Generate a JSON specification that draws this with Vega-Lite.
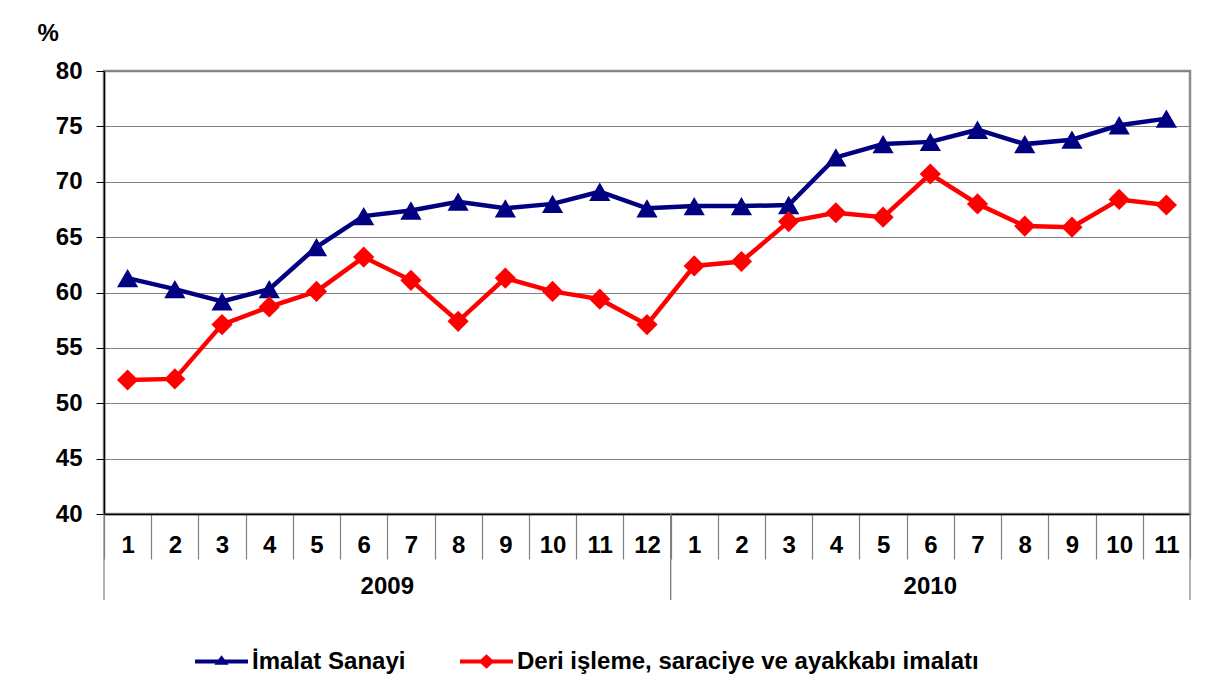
{
  "$schema": "https://vega.github.io/schema/vega-lite/v6.json",
  "width": 1086,
  "height": 443,
  "autosize": "none",
  "padding": {"left": 104, "top": 71, "right": 28, "bottom": 179},
  "background": "white",
  "config": {
    "font": "Liberation Sans",
    "view": {"stroke": "#8c8c8c", "strokeWidth": 2.5}
  },
  "datasets": {
    "main": [
      {"idx": 1, "year": 2009, "month": 1, "series": "İmalat Sanayi", "value": 61.3},
      {"idx": 2, "year": 2009, "month": 2, "series": "İmalat Sanayi", "value": 60.3},
      {"idx": 3, "year": 2009, "month": 3, "series": "İmalat Sanayi", "value": 59.2},
      {"idx": 4, "year": 2009, "month": 4, "series": "İmalat Sanayi", "value": 60.3},
      {"idx": 5, "year": 2009, "month": 5, "series": "İmalat Sanayi", "value": 64.1},
      {"idx": 6, "year": 2009, "month": 6, "series": "İmalat Sanayi", "value": 66.9},
      {"idx": 7, "year": 2009, "month": 7, "series": "İmalat Sanayi", "value": 67.4},
      {"idx": 8, "year": 2009, "month": 8, "series": "İmalat Sanayi", "value": 68.2},
      {"idx": 9, "year": 2009, "month": 9, "series": "İmalat Sanayi", "value": 67.6},
      {"idx": 10, "year": 2009, "month": 10, "series": "İmalat Sanayi", "value": 68.0},
      {"idx": 11, "year": 2009, "month": 11, "series": "İmalat Sanayi", "value": 69.1},
      {"idx": 12, "year": 2009, "month": 12, "series": "İmalat Sanayi", "value": 67.6},
      {"idx": 13, "year": 2010, "month": 1, "series": "İmalat Sanayi", "value": 67.8},
      {"idx": 14, "year": 2010, "month": 2, "series": "İmalat Sanayi", "value": 67.8},
      {"idx": 15, "year": 2010, "month": 3, "series": "İmalat Sanayi", "value": 67.9},
      {"idx": 16, "year": 2010, "month": 4, "series": "İmalat Sanayi", "value": 72.2},
      {"idx": 17, "year": 2010, "month": 5, "series": "İmalat Sanayi", "value": 73.4},
      {"idx": 18, "year": 2010, "month": 6, "series": "İmalat Sanayi", "value": 73.6},
      {"idx": 19, "year": 2010, "month": 7, "series": "İmalat Sanayi", "value": 74.7},
      {"idx": 20, "year": 2010, "month": 8, "series": "İmalat Sanayi", "value": 73.4},
      {"idx": 21, "year": 2010, "month": 9, "series": "İmalat Sanayi", "value": 73.8},
      {"idx": 22, "year": 2010, "month": 10, "series": "İmalat Sanayi", "value": 75.1},
      {"idx": 23, "year": 2010, "month": 11, "series": "İmalat Sanayi", "value": 75.7},
      {"idx": 1, "year": 2009, "month": 1, "series": "Deri işleme, saraciye ve ayakkabı imalatı", "value": 52.1},
      {"idx": 2, "year": 2009, "month": 2, "series": "Deri işleme, saraciye ve ayakkabı imalatı", "value": 52.2},
      {"idx": 3, "year": 2009, "month": 3, "series": "Deri işleme, saraciye ve ayakkabı imalatı", "value": 57.1},
      {"idx": 4, "year": 2009, "month": 4, "series": "Deri işleme, saraciye ve ayakkabı imalatı", "value": 58.7},
      {"idx": 5, "year": 2009, "month": 5, "series": "Deri işleme, saraciye ve ayakkabı imalatı", "value": 60.1},
      {"idx": 6, "year": 2009, "month": 6, "series": "Deri işleme, saraciye ve ayakkabı imalatı", "value": 63.2},
      {"idx": 7, "year": 2009, "month": 7, "series": "Deri işleme, saraciye ve ayakkabı imalatı", "value": 61.1},
      {"idx": 8, "year": 2009, "month": 8, "series": "Deri işleme, saraciye ve ayakkabı imalatı", "value": 57.4},
      {"idx": 9, "year": 2009, "month": 9, "series": "Deri işleme, saraciye ve ayakkabı imalatı", "value": 61.3},
      {"idx": 10, "year": 2009, "month": 10, "series": "Deri işleme, saraciye ve ayakkabı imalatı", "value": 60.1},
      {"idx": 11, "year": 2009, "month": 11, "series": "Deri işleme, saraciye ve ayakkabı imalatı", "value": 59.4},
      {"idx": 12, "year": 2009, "month": 12, "series": "Deri işleme, saraciye ve ayakkabı imalatı", "value": 57.1},
      {"idx": 13, "year": 2010, "month": 1, "series": "Deri işleme, saraciye ve ayakkabı imalatı", "value": 62.4},
      {"idx": 14, "year": 2010, "month": 2, "series": "Deri işleme, saraciye ve ayakkabı imalatı", "value": 62.8},
      {"idx": 15, "year": 2010, "month": 3, "series": "Deri işleme, saraciye ve ayakkabı imalatı", "value": 66.4},
      {"idx": 16, "year": 2010, "month": 4, "series": "Deri işleme, saraciye ve ayakkabı imalatı", "value": 67.2},
      {"idx": 17, "year": 2010, "month": 5, "series": "Deri işleme, saraciye ve ayakkabı imalatı", "value": 66.8},
      {"idx": 18, "year": 2010, "month": 6, "series": "Deri işleme, saraciye ve ayakkabı imalatı", "value": 70.7},
      {"idx": 19, "year": 2010, "month": 7, "series": "Deri işleme, saraciye ve ayakkabı imalatı", "value": 68.0},
      {"idx": 20, "year": 2010, "month": 8, "series": "Deri işleme, saraciye ve ayakkabı imalatı", "value": 66.0},
      {"idx": 21, "year": 2010, "month": 9, "series": "Deri işleme, saraciye ve ayakkabı imalatı", "value": 65.9},
      {"idx": 22, "year": 2010, "month": 10, "series": "Deri işleme, saraciye ve ayakkabı imalatı", "value": 68.4},
      {"idx": 23, "year": 2010, "month": 11, "series": "Deri işleme, saraciye ve ayakkabı imalatı", "value": 67.9}
    ],
    "years": [
      {"year": "2009", "first": 1, "last": 12},
      {"year": "2010", "first": 13, "last": 23}
    ]
  },
  "layer": [
    {
      "data": {"name": "main"},
      "mark": {"type": "line", "strokeWidth": 4.5},
      "encoding": {
        "x": {
          "field": "idx",
          "type": "ordinal",
          "bandPosition": 0.5,
          "title": null,
          "scale": {"type": "band", "paddingInner": 0, "paddingOuter": 0, "domain": [1,2,3,4,5,6,7,8,9,10,11,12,13,14,15,16,17,18,19,20,21,22,23]},
          "axis": {
            "tickBand": "extent",
            "tickSize": 45,
            "tickColor": "#808080",
            "tickWidth": 1.2,
            "domainColor": "#000000",
            "domainWidth": 1.5,
            "labelAngle": 0,
            "labelFont": "Liberation Sans",
            "labelFontSize": 24,
            "labelFontWeight": "bold",
            "labelColor": "#000000",
            "labelBaseline": "middle",
            "labelPadding": -14,
            "labelOverlap": false,
            "labelExpr": "datum.value > 12 ? datum.value - 12 : datum.value"
          }
        },
        "y": {
          "field": "value",
          "type": "quantitative",
          "scale": {"domain": [40, 80], "nice": false, "zero": false},
          "axis": {
            "values": [40, 45, 50, 55, 60, 65, 70, 75, 80],
            "grid": true,
            "gridColor": "#808080",
            "gridWidth": 1.2,
            "domainColor": "#000000",
            "domainWidth": 1.5,
            "tickColor": "#000000",
            "tickSize": 8,
            "labelFont": "Liberation Sans",
            "labelFontSize": 24,
            "labelFontWeight": "bold",
            "labelColor": "#000000",
            "labelPadding": 14,
            "title": "%",
            "titleAngle": 0,
            "titleFont": "Liberation Sans",
            "titleFontSize": 24,
            "titleFontWeight": "bold",
            "titleColor": "#000000",
            "titleAlign": "left",
            "titleBaseline": "middle",
            "titleX": -67,
            "titleY": -38
          }
        },
        "color": {
          "field": "series",
          "type": "nominal",
          "scale": {"domain": ["İmalat Sanayi", "Deri işleme, saraciye ve ayakkabı imalatı"], "range": ["#000080", "#FF0000"]},
          "legend": null
        },
        "detail": {"field": "series"}
      }
    },
    {
      "data": {"name": "main"},
      "mark": {"type": "point", "filled": true, "opacity": 1, "size": 450},
      "encoding": {
        "x": {"field": "idx", "type": "ordinal", "bandPosition": 0.5, "title": null},
        "y": {"field": "value", "type": "quantitative"},
        "color": {"field": "series", "type": "nominal", "legend": null},
        "shape": {
          "field": "series",
          "type": "nominal",
          "scale": {"domain": ["İmalat Sanayi", "Deri işleme, saraciye ve ayakkabı imalatı"], "range": ["triangle-up", "diamond"]},
          "legend": null
        }
      }
    },
    {
      "data": {"name": "main"},
      "transform": [{"filter": "datum.series === 'İmalat Sanayi'"}],
      "mark": {"type": "point", "filled": true, "opacity": 0, "size": 10, "color": "#000080"},
      "encoding": {
        "x": {"field": "idx", "type": "ordinal", "bandPosition": 0.5, "title": null},
        "y": {"field": "value", "type": "quantitative"},
        "shape": {
          "field": "series",
          "type": "nominal",
          "scale": {
            "domain": ["İmalat Sanayi"],
            "range": ["M-1,-0.075H1V0.075H-1Z M0,-0.24L0.27,0.12H-0.27Z"]
          },
          "legend": {
            "title": null,
            "orient": "none",
            "legendX": 91,
            "legendY": 564,
            "padding": 0,
            "symbolSize": 2809,
            "symbolOpacity": 1,
            "symbolFillColor": "#000080",
            "symbolStrokeWidth": 0,
            "labelOffset": 4,
            "labelFont": "Liberation Sans",
            "labelFontSize": 24,
            "labelFontWeight": "bold",
            "labelColor": "#000000",
            "labelLimit": 1000
          }
        }
      }
    },
    {
      "data": {"name": "main"},
      "transform": [{"filter": "datum.series !== 'İmalat Sanayi'"}],
      "mark": {"type": "point", "filled": true, "opacity": 0, "size": 10, "color": "#FF0000"},
      "encoding": {
        "x": {"field": "idx", "type": "ordinal", "bandPosition": 0.5, "title": null},
        "y": {"field": "value", "type": "quantitative"},
        "shape": {
          "field": "series",
          "type": "nominal",
          "scale": {
            "domain": ["Deri işleme, saraciye ve ayakkabı imalatı"],
            "range": ["M-1,-0.075H1V0.075H-1Z M0,-0.27L0.3,0L0,0.27L-0.3,0Z"]
          },
          "legend": {
            "title": null,
            "orient": "none",
            "legendX": 356,
            "legendY": 564,
            "padding": 0,
            "symbolSize": 2809,
            "symbolOpacity": 1,
            "symbolFillColor": "#FF0000",
            "symbolStrokeWidth": 0,
            "labelOffset": 4,
            "labelFont": "Liberation Sans",
            "labelFontSize": 24,
            "labelFontWeight": "bold",
            "labelColor": "#000000",
            "labelLimit": 1000
          }
        }
      }
    },
    {
      "data": {"name": "years"},
      "mark": {"type": "rule", "color": "#808080", "strokeWidth": 1.2},
      "encoding": {
        "x": {"field": "first", "type": "ordinal", "bandPosition": 0, "title": null},
        "y": {"datum": 40},
        "y2": {"datum": 32.23}
      }
    },
    {
      "data": {"name": "years"},
      "mark": {"type": "rule", "color": "#808080", "strokeWidth": 1.2},
      "encoding": {
        "x": {"field": "last", "type": "ordinal", "bandPosition": 1, "title": null},
        "y": {"datum": 40},
        "y2": {"datum": 32.23}
      }
    },
    {
      "data": {"values": [{"year": "2009", "at": 6}]},
      "mark": {"type": "text", "font": "Liberation Sans", "fontSize": 24, "fontWeight": "bold", "color": "#000000", "baseline": "middle"},
      "encoding": {
        "x": {"field": "at", "type": "ordinal", "bandPosition": 1, "title": null},
        "y": {"datum": 33.4},
        "text": {"field": "year"}
      }
    },
    {
      "data": {"values": [{"year": "2010", "at": 18}]},
      "mark": {"type": "text", "font": "Liberation Sans", "fontSize": 24, "fontWeight": "bold", "color": "#000000", "baseline": "middle"},
      "encoding": {
        "x": {"field": "at", "type": "ordinal", "bandPosition": 0.5, "title": null},
        "y": {"datum": 33.4},
        "text": {"field": "year"}
      }
    }
  ],
  "resolve": {"scale": {"shape": "independent"}}
}
